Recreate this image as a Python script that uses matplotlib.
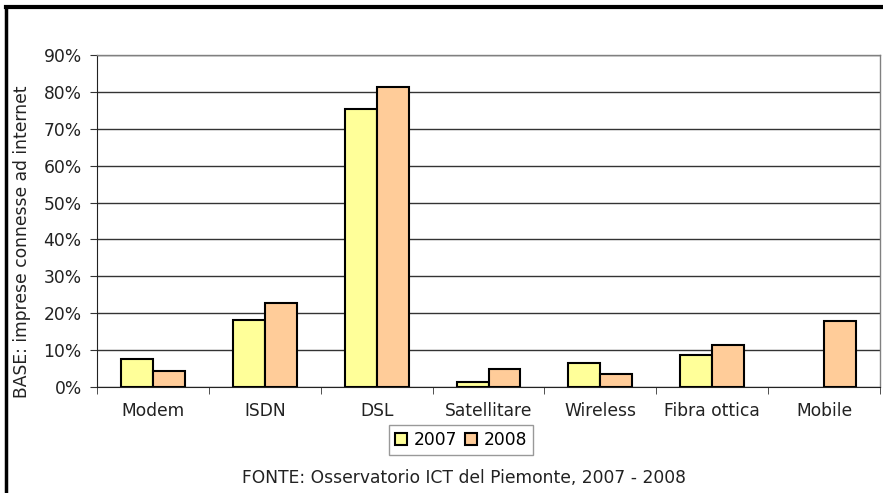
import matplotlib
matplotlib.use('Agg')
import matplotlib.pyplot as plt
from matplotlib.lines import Line2D
import numpy as np

# Dati
categorie = ["Modem", "ISDN", "DSL", "Satellitare", "Wireless", "Fibra ottica", "Mobile"]
valori_2007 = [7.5, 18.2, 75.4, 1.3, 6.4, 8.8, 0.0]
valori_2008 = [4.3, 22.7, 81.2, 4.8, 3.4, 11.3, 18.0]
anni = ["2007", "2008"]
tick_y = [0, 10, 20, 30, 40, 50, 60, 70, 80, 90]

W, H = 883, 493
FS = 12.3
plt.rcParams['font.family'] = ['DejaVu Sans']
fig = plt.figure(figsize=(W / 100, H / 100), dpi=100)

# area del grafico in pixel: x 97-880, y 55-387
ax = fig.add_axes([97 / W, 1 - 387 / H, (880 - 97) / W, (387 - 55) / H])

x = np.arange(len(categorie))
larg = 0.285
b1 = ax.bar(x - larg / 2, valori_2007, larg, color='#FFFF99', edgecolor='black', linewidth=1.5, zorder=3)
b2 = ax.bar(x + larg / 2, valori_2008, larg, color='#FFCC99', edgecolor='black', linewidth=1.5, zorder=3)
# niente barra per Mobile 2007
b1[-1].set_visible(False)

ax.set_xlim(-0.5, len(categorie) - 0.5)
ax.set_ylim(0, 90)
ax.set_yticks(tick_y)
ax.set_yticklabels([str(t) + '%' for t in tick_y], fontsize=FS, color='#222222')
ax.yaxis.grid(True, color='#333333', linewidth=1, zorder=0)
ax.set_axisbelow(True)

ax.set_xticks(x)
ax.set_xticklabels(categorie, fontsize=FS, color='#222222')
ax.tick_params(axis='x', length=0, pad=11)
ax.set_xticks(np.arange(len(categorie) + 1) - 0.5, minor=True)
ax.tick_params(axis='x', which='minor', length=5, direction='out', color='#333333')
ax.tick_params(axis='y', length=5, direction='out', color='#333333', pad=6)

for s in ['top', 'right']:
    ax.spines[s].set_color('#808080')
    ax.spines[s].set_linewidth(1)
ax.spines['left'].set_color('#222222')
ax.spines['bottom'].set_color('#222222')

fig.text(22 / W, 1 - 242 / H, "BASE: imprese connesse ad internet", rotation=90,
         ha='center', va='center', fontsize=FS, color='#222222')

leg = fig.legend([b1[0], b2[0]], anni, loc='center', bbox_to_anchor=(461 / W, 1 - 440 / H),
                 ncol=2, fontsize=FS, frameon=True, fancybox=False, edgecolor='#808080',
                 handlelength=0.7, handleheight=0.7, handletextpad=0.35, columnspacing=0.5,
                 borderpad=0.35, borderaxespad=0)
leg.get_frame().set_linewidth(1)

fig.text(464 / W, 1 - 478 / H, "FONTE: Osservatorio ICT del Piemonte, 2007 - 2008",
         ha='center', va='center', fontsize=FS, color='#222222')

# cornice esterna (solo sinistra e alto visibili)
fig.add_artist(Line2D([6 / W, 6 / W], [0, 1 - 7 / H], color='black', linewidth=2.5, transform=fig.transFigure))
fig.add_artist(Line2D([6 / W, 882 / W], [1 - 7 / H, 1 - 7 / H], color='black', linewidth=3, transform=fig.transFigure))

fig.savefig('out.png', dpi=100)
